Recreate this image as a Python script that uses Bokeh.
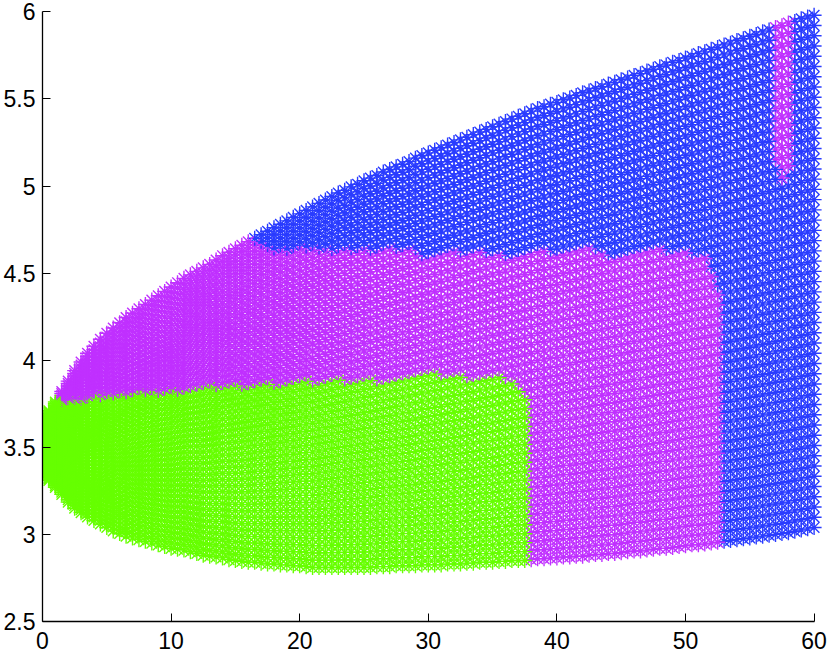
from bokeh.plotting import figure
from bokeh.models import FixedTicker, Range1d, ColumnDataSource
from bokeh.embed import file_html
from bokeh.resources import INLINE

x_step_columns = [i * 0.5 for i in range(121)]
lower_y = [3.37,3.31,3.27,3.23,3.185,3.15,3.125,3.10,3.08,3.06,3.04,3.02,3.005,2.99,2.98,2.97,2.96,2.95,2.94,2.93,
 2.92,2.915,2.91,2.90,2.89,2.88,2.875,2.87,2.865,2.855,2.85,2.845,2.84,2.84,2.835,2.83,2.83,2.825,2.825,2.82,
 2.82,2.815,2.81,2.81,2.81,2.81,2.81,2.81,2.81,2.81,2.81,2.81,2.815,2.815,2.815,2.82,2.82,2.82,2.82,2.825,
 2.825,2.825,2.825,2.83,2.83,2.83,2.835,2.835,2.84,2.84,2.84,2.845,2.845,2.85,2.85,2.85,2.855,2.86,2.86,2.865,
 2.865,2.87,2.87,2.875,2.875,2.88,2.885,2.885,2.89,2.89,2.895,2.90,2.905,2.905,2.91,2.915,2.92,2.92,2.925,2.93,
 2.935,2.94,2.94,2.945,2.95,2.955,2.96,2.965,2.97,2.975,2.98,2.985,2.99,2.995,3.00,3.005,3.01,3.018,3.025,3.032,3.04]
upper_y = [3.66,3.71,3.76,3.82,3.88,3.94,3.99,4.04,4.08,4.12,4.155,4.185,4.215,4.245,4.27,4.295,4.32,4.345,4.37,4.395,
 4.42,4.445,4.47,4.49,4.51,4.53,4.55,4.575,4.60,4.62,4.64,4.66,4.68,4.70,4.72,4.74,4.76,4.78,4.80,4.82,
 4.84,4.86,4.88,4.90,4.92,4.94,4.96,4.975,4.995,5.01,5.03,5.045,5.06,5.08,5.095,5.11,5.125,5.14,5.16,5.175,
 5.19,5.205,5.22,5.235,5.25,5.265,5.28,5.295,5.31,5.325,5.34,5.355,5.37,5.385,5.40,5.415,5.43,5.445,5.455,5.47,
 5.48,5.495,5.505,5.52,5.535,5.545,5.56,5.57,5.585,5.595,5.61,5.62,5.635,5.645,5.66,5.67,5.685,5.695,5.71,5.72,
 5.735,5.745,5.76,5.77,5.785,5.795,5.81,5.82,5.835,5.845,5.86,5.87,5.885,5.895,5.91,5.92,5.935,5.945,5.96,5.97,5.98]
green_top = [3.80,3.80,3.80,3.765,3.77,3.775,3.78,3.79,3.80,3.80,3.805,3.81,3.81,3.815,3.82,3.82,3.82,3.82,3.82,3.82,
 3.825,3.83,3.84,3.845,3.85,3.85,3.85,3.85,3.85,3.85,3.855,3.86,3.86,3.865,3.867,3.87,3.87,3.875,3.875,3.878,
 3.878,3.88,3.88,3.88,3.88,3.88,3.885,3.885,3.885,3.885,3.885,3.89,3.89,3.895,3.90,3.90,3.905,3.91,3.915,3.915,
 3.92,3.92,3.92,3.915,3.915,3.915,3.91,3.91,3.91,3.91,3.91,3.91,3.895,3.88,3.84,3.80] + [0.0] * 45
purple_top = [4.70] * 33 + [
 4.665,4.645,4.635,4.63,4.63,4.635,4.64,4.64,4.64,4.635,
 4.63,4.63,4.63,4.635,4.64,4.64,4.64,4.64,4.64,4.64,
 4.64,4.64,4.64,4.64,4.63,4.62,4.61,4.61,4.625,4.64,
 4.64,4.63,4.625,4.62,4.62,4.62,4.615,4.61,4.61,4.61,
 4.62,4.63,4.64,4.635,4.63,4.63,4.63,4.63,4.635,4.64,
 4.64,4.64,4.64,4.64,4.63,4.61,4.615,4.63,4.64,4.64,
 4.64,4.64,4.64,4.64,4.64,4.64,4.635,4.625,4.615,4.605,
 4.585,4.52,4.43] + [0.0] * 15
patch_columns = [57.0, 57.5, 58.0]
patch_floor = [5.10, 5.04, 5.10]
x_ticks = [0, 10, 20, 30, 40, 50, 60]
y_ticks = [2.5, 3, 3.5, 4, 4.5, 5, 5.5, 6]
y_tick_labels = ["2.5", "3", "3.5", "4", "4.5", "5", "5.5", "6"]
BLUE, PURPLE, GREEN = "#2a3cff", "#c030ff", "#66ff00"
ROWS = 51

assert len(lower_y) == 121 and len(upper_y) == 121, (len(lower_y), len(upper_y))
assert len(green_top) == 121 and len(purple_top) == 121, (len(green_top), len(purple_top))

xs, ys, cs = [], [], []
for k in range(ROWS):
    for i in range(120, -1, -1):
        x = x_step_columns[i]
        y = lower_y[i] + (upper_y[i] - lower_y[i]) * k / (ROWS - 1)
        if y <= green_top[i]:
            c = GREEN
        elif y <= purple_top[i]:
            c = PURPLE
        else:
            c = BLUE
        if x in patch_columns and y >= patch_floor[patch_columns.index(x)]:
            c = PURPLE
        xs.append(x); ys.append(y); cs.append(c)

W, H = 830, 653
L, R, T, B = 42, 2, 2, 32
FW, FH = W - L - R, H - T - B
xend = FW / 12.86
yend = 2.5 + FH / 174.2
p = figure(width=W, height=H, frame_width=FW, frame_height=FH, output_backend="svg", toolbar_location=None,
           x_range=Range1d(0, xend), y_range=Range1d(2.5, yend),
           min_border_left=L, min_border_right=R, min_border_top=T, min_border_bottom=B)
p.styles = {"position": "absolute", "left": "0px", "top": "0px"}
p.outline_line_color = None
p.grid.visible = False
p.background_fill_color = None
p.border_fill_color = None
src = ColumnDataSource(dict(x=xs, y=ys, c=cs))
p.scatter("x", "y", source=src, marker="asterisk", size=15, line_color="c", line_width=1.4)
for ax, ticks in ((p.xaxis[0], x_ticks), (p.yaxis[0], y_ticks)):
    ax.ticker = FixedTicker(ticks=ticks)
    ax.bounds = (ticks[0], ticks[-1])
    ax.axis_line_color = "black"
    ax.axis_line_width = 1.3
    ax.major_tick_line_color = "black"
    ax.major_tick_line_width = 1.0
    ax.major_tick_in = 8
    ax.major_tick_out = 0
    ax.minor_tick_line_color = None
    ax.major_label_text_font = "Liberation Sans"
    ax.major_label_text_font_size = "23px"
    ax.major_label_text_color = "black"
p.xaxis[0].major_label_standoff = 10
p.yaxis[0].major_label_standoff = 7
p.xaxis[0].major_label_overrides = {t: str(t) for t in x_ticks}
p.yaxis[0].major_label_overrides = dict(zip(y_ticks, y_tick_labels))

open("out.html", "w").write(file_html(p, INLINE))
